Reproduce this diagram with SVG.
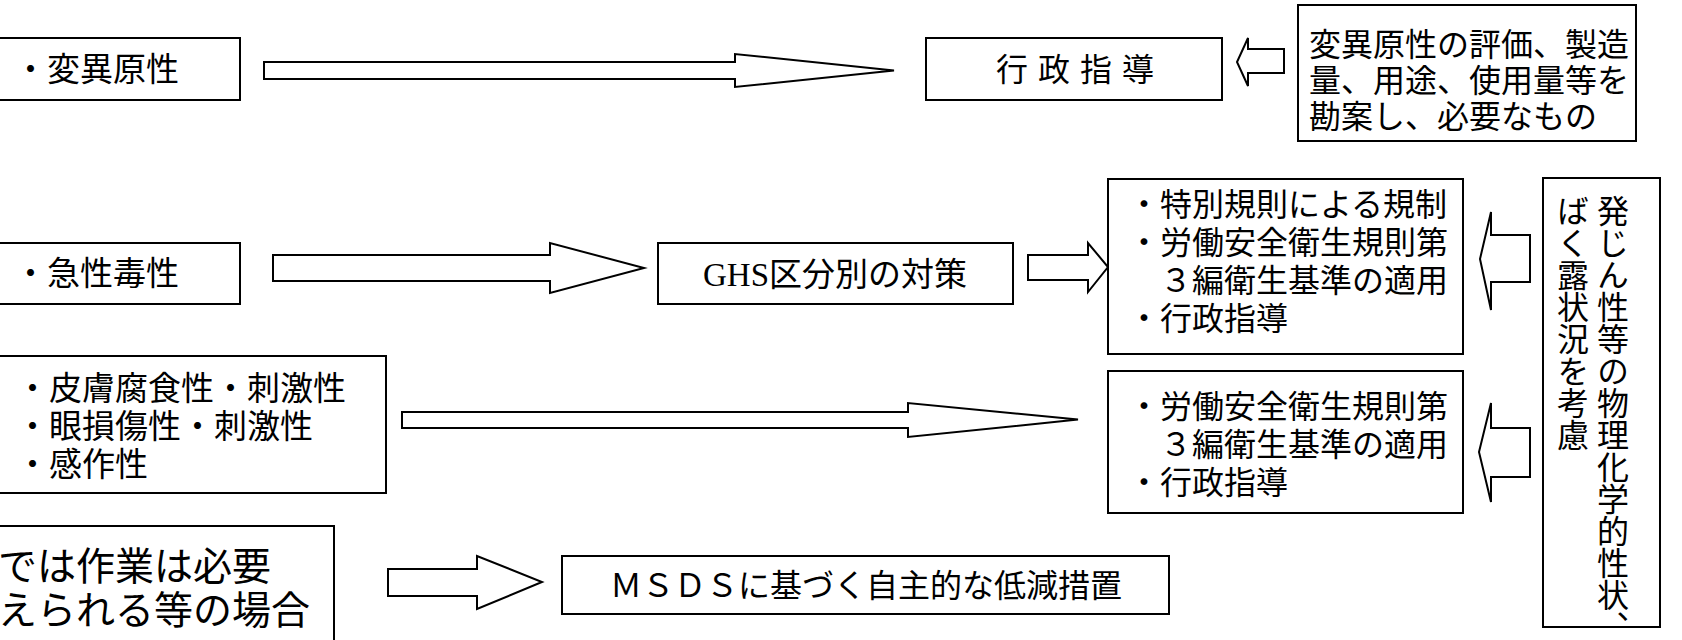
<svg xmlns="http://www.w3.org/2000/svg" width="1682" height="640" viewBox="0 0 1682 640">
<style>
.box{fill:#fff;stroke:#000;stroke-width:2}
.arr{fill:#fff;stroke:#000;stroke-width:2;stroke-linejoin:miter}
.t{font-family:"Noto Sans CJK JP","Noto Sans CJK SC",sans-serif;fill:#000}
.m{font-family:"Liberation Serif","Noto Sans CJK JP",serif;fill:#000}
.v{writing-mode:vertical-rl}
</style>
<rect width="1682" height="640" fill="#fff"/>
<g id="connectors">
<path class="arr" d="M264,62 H735 V54 L894,70.5 L735,87 V79 H264 Z"/>
<path class="arr" d="M1284,49 H1248 V38 L1237,62 L1248,86 V73 H1284 Z"/>
<path class="arr" d="M273,255 H550 V243 L644,268 L550,293 V281 H273 Z"/>
<path class="arr" d="M1028,255 H1088 V243 L1108,267 L1088,292 V280 H1028 Z"/>
<path class="arr" d="M402,412 H908 V403 L1078,419.5 L908,437 V428 H402 Z"/>
<path class="arr" d="M1530,235 H1491 V212 L1480,259 L1491,310 V282 H1530 Z"/>
<path class="arr" d="M1530,428 H1491 V403 L1479,452 L1491,502 V477 H1530 Z"/>
<path class="arr" d="M388,569 H477 V556 L542,582 L477,609 V596 H388 Z"/>
</g>
<g id="mutagenicity">
<rect class="box" x="-2" y="38" width="242" height="62"/>
<text class="t" x="14" y="81" font-size="33">・変異原性</text>
</g>
<g id="admin-guidance">
<rect class="box" x="926" y="38" width="296" height="62"/>
<text class="t" x="1080" y="81" font-size="32" text-anchor="middle" letter-spacing="10">行政指導</text>
</g>
<g id="consider-mutagenicity">
<rect class="box" x="1298" y="5" width="338" height="136"/>
<text class="t" font-size="32"><tspan x="1309" y="56">変異原性の評価、製造</tspan><tspan x="1309" y="92">量、用途、使用量等を</tspan><tspan x="1309" y="128">勘案し、必要なもの</tspan></text>
</g>
<g id="acute-toxicity">
<rect class="box" x="-2" y="243" width="242" height="61"/>
<text class="t" x="14" y="285" font-size="33">・急性毒性</text>
</g>
<g id="ghs">
<rect class="box" x="658" y="243" width="355" height="61"/>
<text class="m" x="835" y="286" font-size="33" text-anchor="middle">GHS区分別の対策</text>
</g>
<g id="special-rules">
<rect class="box" x="1108" y="179" width="355" height="175"/>
<text class="t" font-size="32"><tspan x="1128" y="216">・特別規則による規制</tspan><tspan x="1128" y="254">・労働安全衛生規則第</tspan><tspan x="1128" y="292">　３編衛生基準の適用</tspan><tspan x="1128" y="330">・行政指導</tspan></text>
</g>
<g id="skin-eye-sensitization">
<rect class="box" x="-2" y="356" width="388" height="137"/>
<text class="t" font-size="33"><tspan x="16" y="400">・皮膚腐食性・刺激性</tspan><tspan x="16" y="438">・眼損傷性・刺激性</tspan><tspan x="16" y="476">・感作性</tspan></text>
</g>
<g id="hygiene-standards">
<rect class="box" x="1108" y="371" width="355" height="142"/>
<text class="t" font-size="32"><tspan x="1128" y="418">・労働安全衛生規則第</tspan><tspan x="1128" y="456">　３編衛生基準の適用</tspan><tspan x="1128" y="494">・行政指導</tspan></text>
</g>
<g id="physchem">
<rect class="box" x="1543" y="178" width="117" height="449"/>
<text class="t v" x="1613" y="195" font-size="32">発じん性等の物理化学的性状、</text>
<text class="t v" x="1573" y="195" font-size="32">ばく露状況を考慮</text>
</g>
<g id="work-case">
<rect class="box" x="-2" y="526" width="336" height="120"/>
<text class="t" font-size="39"><tspan x="-2" y="580">では作業は必要</tspan><tspan x="-2" y="624">えられる等の場合</tspan></text>
</g>
<g id="msds">
<rect class="box" x="562" y="556" width="607" height="58"/>
<text class="m" x="866" y="597" font-size="32" text-anchor="middle">ＭＳＤＳに基づく自主的な低減措置</text>
</g>
</svg>
